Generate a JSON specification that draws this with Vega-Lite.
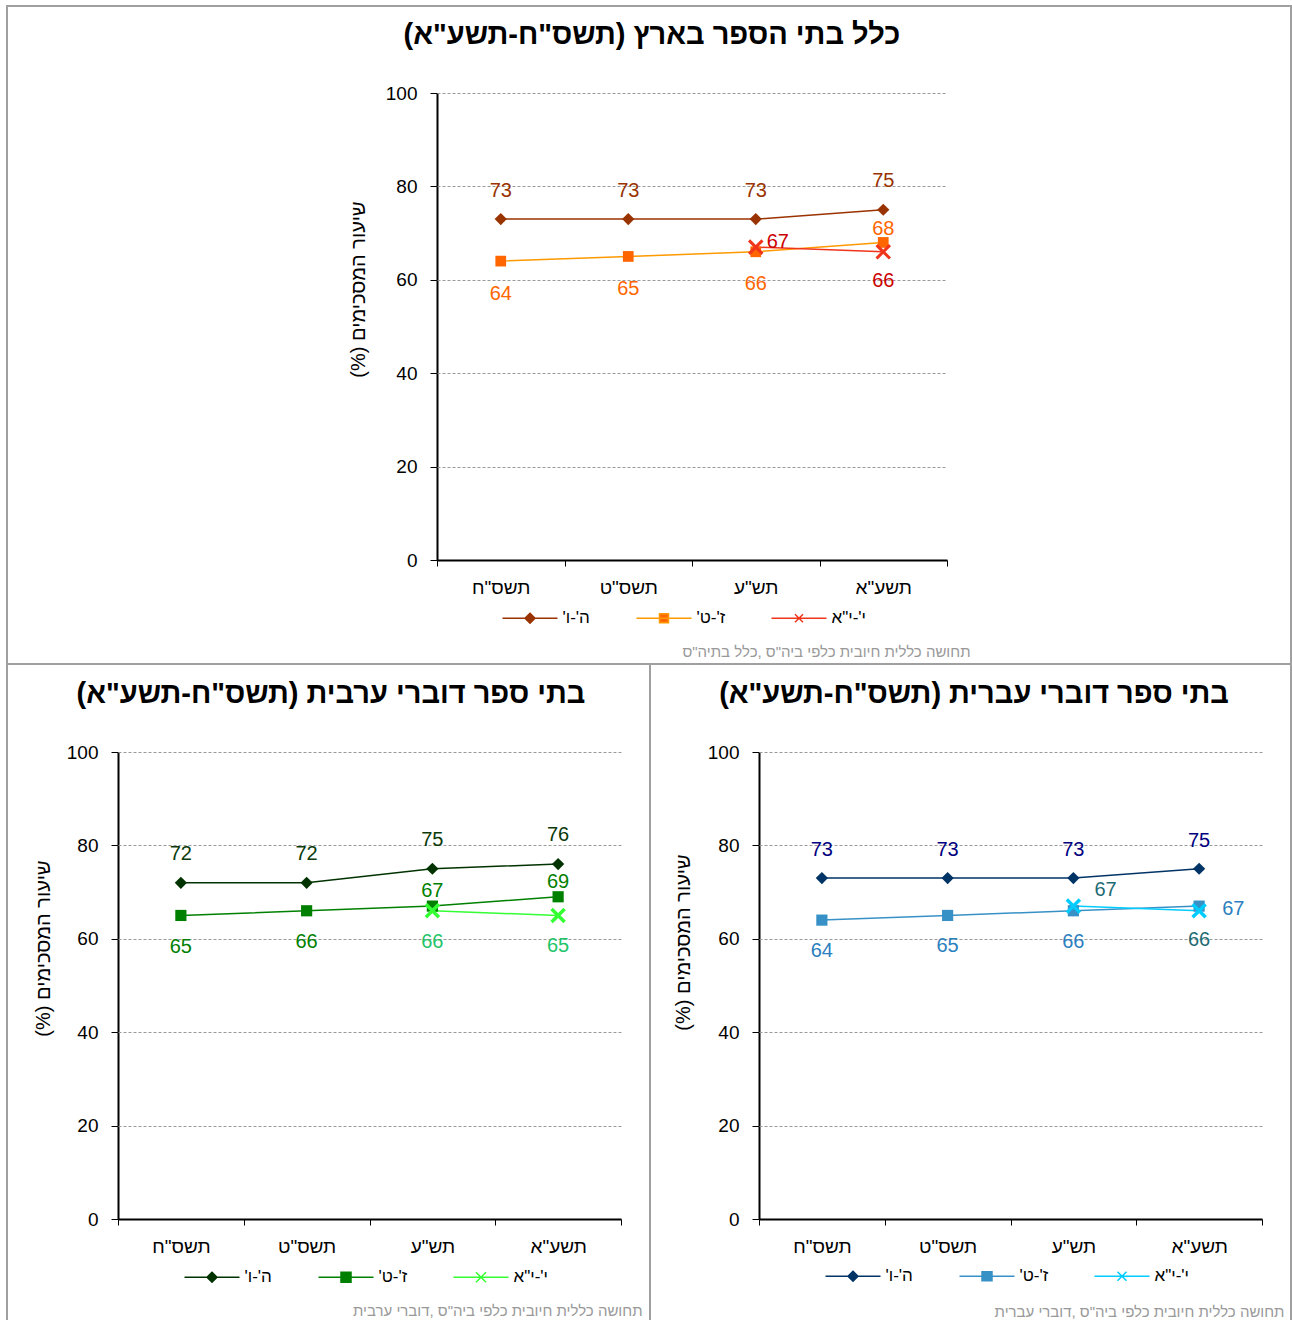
{
"$schema": "https://vega.github.io/schema/vega-lite/v6.json",
"padding": {"left": 6, "top": 5, "right": 0, "bottom": 0},
"background": "white",
"config": {"font": "Liberation Sans", "view": {"stroke": null}},
"datasets": {"d": [
{"panel":"all","series":"ה'-ו'","year":"תשס\"ח","value":73},
{"panel":"all","series":"ה'-ו'","year":"תשס\"ט","value":73},
{"panel":"all","series":"ה'-ו'","year":"תש\"ע","value":73},
{"panel":"all","series":"ה'-ו'","year":"תשע\"א","value":75},
{"panel":"all","series":"ז'-ט'","year":"תשס\"ח","value":64},
{"panel":"all","series":"ז'-ט'","year":"תשס\"ט","value":65},
{"panel":"all","series":"ז'-ט'","year":"תש\"ע","value":66},
{"panel":"all","series":"ז'-ט'","year":"תשע\"א","value":68},
{"panel":"all","series":"י'-י\"א","year":"תש\"ע","value":67},
{"panel":"all","series":"י'-י\"א","year":"תשע\"א","value":66},
{"panel":"arab","series":"ה'-ו'","year":"תשס\"ח","value":72},
{"panel":"arab","series":"ה'-ו'","year":"תשס\"ט","value":72},
{"panel":"arab","series":"ה'-ו'","year":"תש\"ע","value":75},
{"panel":"arab","series":"ה'-ו'","year":"תשע\"א","value":76},
{"panel":"arab","series":"ז'-ט'","year":"תשס\"ח","value":65},
{"panel":"arab","series":"ז'-ט'","year":"תשס\"ט","value":66},
{"panel":"arab","series":"ז'-ט'","year":"תש\"ע","value":67},
{"panel":"arab","series":"ז'-ט'","year":"תשע\"א","value":69},
{"panel":"arab","series":"י'-י\"א","year":"תש\"ע","value":66},
{"panel":"arab","series":"י'-י\"א","year":"תשע\"א","value":65},
{"panel":"heb","series":"ה'-ו'","year":"תשס\"ח","value":73},
{"panel":"heb","series":"ה'-ו'","year":"תשס\"ט","value":73},
{"panel":"heb","series":"ה'-ו'","year":"תש\"ע","value":73},
{"panel":"heb","series":"ה'-ו'","year":"תשע\"א","value":75},
{"panel":"heb","series":"ז'-ט'","year":"תשס\"ח","value":64},
{"panel":"heb","series":"ז'-ט'","year":"תשס\"ט","value":65},
{"panel":"heb","series":"ז'-ט'","year":"תש\"ע","value":66},
{"panel":"heb","series":"ז'-ט'","year":"תשע\"א","value":67},
{"panel":"heb","series":"י'-י\"א","year":"תש\"ע","value":67},
{"panel":"heb","series":"י'-י\"א","year":"תשע\"א","value":66}
]},
"spacing": 0,
"bounds": "flush",
"resolve": {"scale": {"x":"independent","y":"independent","color":"independent","fill":"independent","stroke":"independent","shape":"independent"}},
"vconcat": [
{
"width": 1284, "height": 658,
"view": {"stroke": "#A0A0A0", "strokeWidth": 2},
"title": {"text": "‏כלל בתי הספר בארץ (תשס\"ח-תשע\"א)‏", "anchor": "middle", "frame": "group", "offset": -44, "dx": 3, "fontSize": 29, "fontWeight": "bold", "color": "black"},
"data": {"name": "d"},
"transform": [{"filter": {"field": "panel", "equal": "all"}}],
"encoding": {
 "x": {"field": "year", "type": "ordinal", "sort": ["תשס\"ח","תשס\"ט","תש\"ע","תשע\"א"], "scale": {"type": "band", "range": [430, 940], "paddingInner": 0, "paddingOuter": 0}, "bandPosition": 0.5,
   "axis": {"orient": "bottom", "offset": -104, "domainColor": "black", "domainWidth": 2, "tickBand": "extent", "tickColor": "black", "tickSize": 6, "tickWidth": 1, "labelFontSize": 19, "labelColor": "black", "labelPadding": 12, "labelAngle": 0, "grid": false,
     "title": "‏תחושה  כללית חיובית  כלפי ביה\"ס ,כלל בתיה\"ס‏", "titleFontSize": 15, "titleFontWeight": "normal", "titleColor": "#999999", "titleX": 963, "titleY": 91, "titleAlign": "right", "titleBaseline": "middle"}},
 "y": {"field": "value", "type": "quantitative", "scale": {"domain": [0, 100], "range": [554, 87], "nice": false}, "axis": null}
},
"resolve": {"axis": {"y": "independent"}},
"layer": [
 {"mark": {"type": "line", "strokeWidth": 1.5},
  "encoding": {
   "y": {"field": "value", "type": "quantitative", "scale": {"domain": [0, 100], "range": [554, 87], "nice": false},
     "axis": {"orient": "left", "offset": -430, "values": [0,20,40,60,80,100], "domainColor": "black", "domainWidth": 2, "tickColor": "black", "tickSize": 7, "tickWidth": 1, "labelFontSize": 19, "labelColor": "black", "labelPadding": 13, "grid": false,
       "title": "‏שיעור המסכימים (%)‏", "titleFontSize": 20, "titleFontWeight": "normal", "titleColor": "black", "titleX": -79, "titleY": 283, "titleAlign": "center", "titleBaseline": "middle", "titleAngle": 270}},
   "color": {"field": "series", "type": "nominal", "scale": {"range": ["#993300","#FF9900","#F0351B"]}, "legend": null}}},
 {"transform": [{"filter": {"field": "series", "equal": "ה'-ו'"}}],
  "mark": {"type": "point", "shape": "diamond", "filled": true, "size": 150, "opacity": 1, "color": "#993300"},
  "encoding": {"y": {"field": "value", "type": "quantitative", "scale": {"domain": [0, 100], "range": [554, 87], "nice": false},
     "axis": {"orient": "left", "offset": -430, "values": [20,40,60,80,100], "domain": false, "labels": false, "ticks": true, "tickSize": -510, "tickColor": "#9a9a9a", "tickDash": [3,2], "tickWidth": 1, "grid": false, "title": null}}}},
 {"transform": [{"filter": {"field": "series", "equal": "ז'-ט'"}}],
  "mark": {"type": "point", "shape": "square", "filled": true, "size": 115, "opacity": 1, "color": "#FF6600"}},
 {"transform": [{"filter": {"field": "series", "equal": "י'-י\"א"}}],
  "mark": {"type": "point", "shape": "M-1,-1L1,1M-1,1L1,-1", "filled": false, "size": 180, "opacity": 1, "strokeWidth": 3, "color": "#F0351B"}},
 {"mark": {"type": "point", "filled": true, "opacity": 0},
  "encoding": {
   "fill": {"field": "series", "type": "nominal", "scale": {"domain": ["ה'-ו'","ז'-ט'","י'-י\"א"], "range": ["#993300","#FF6600","#F0351B"]},
     "legend": {"title": null, "orient": "none", "legendX": 495.5, "legendY": 603.5, "direction": "horizontal", "symbolSize": 100, "symbolStrokeWidth": 1.5, "symbolOffset": 19, "labelOffset": 24, "labelFontSize": 17, "labelColor": "black", "columnPadding": 43, "symbolOpacity": 1, "padding": 0, "labelExpr": "'‏' + datum.label + '‏'"}},
   "stroke": {"field": "series", "type": "nominal", "scale": {"domain": ["ה'-ו'","ז'-ט'","י'-י\"א"], "range": ["#993300","#FF9900","#F0351B"]},
     "legend": {"title": null, "orient": "none", "legendX": 495.5, "legendY": 603.5, "direction": "horizontal", "symbolSize": 100, "symbolStrokeWidth": 1.5, "symbolOffset": 19, "labelOffset": 24, "labelFontSize": 17, "labelColor": "black", "columnPadding": 43, "symbolOpacity": 1, "padding": 0, "labelExpr": "'‏' + datum.label + '‏'"}},
   "shape": {"field": "series", "type": "nominal", "scale": {"domain": ["ה'-ו'","ז'-ט'","י'-י\"א"], "range": ["M-5.5,0H5.5M0,-1L1,0L0,1L-1,0Z","M-5.5,0H5.5M-0.9,-0.9H0.9V0.9H-0.9Z","M-5.5,0H5.5M-0.8,-0.8L0.8,0.8M-0.8,0.8L0.8,-0.8"]},
     "legend": {"title": null, "orient": "none", "legendX": 495.5, "legendY": 603.5, "direction": "horizontal", "symbolSize": 100, "symbolStrokeWidth": 1.5, "symbolOffset": 19, "labelOffset": 24, "labelFontSize": 17, "labelColor": "black", "columnPadding": 43, "symbolOpacity": 1, "padding": 0, "labelExpr": "'‏' + datum.label + '‏'"}}}},
 {"transform": [{"filter": {"field": "series", "equal": "ה'-ו'"}}],
  "mark": {"type": "text", "dy": -28.5, "fontSize": 20, "baseline": "middle", "color": "#993300"},
  "encoding": {"text": {"field": "value", "type": "quantitative"}}},
 {"transform": [{"filter": {"and": [{"field": "series", "equal": "ז'-ט'"}, {"field": "year", "oneOf": ["תשס\"ח","תשס\"ט","תש\"ע"]}]}}],
  "mark": {"type": "text", "dy": 32.5, "fontSize": 20, "baseline": "middle", "color": "#FF6600"},
  "encoding": {"text": {"field": "value", "type": "quantitative"}}},
 {"transform": [{"filter": {"and": [{"field": "series", "equal": "ז'-ט'"}, {"field": "year", "equal": "תשע\"א"}]}}],
  "mark": {"type": "text", "dy": -13, "fontSize": 20, "baseline": "middle", "color": "#FF6600"},
  "encoding": {"text": {"field": "value", "type": "quantitative"}}},
 {"transform": [{"filter": {"and": [{"field": "series", "equal": "י'-י\"א"}, {"field": "year", "equal": "תשע\"א"}]}}],
  "mark": {"type": "text", "dy": 29.5, "fontSize": 20, "baseline": "middle", "color": "#CC0000"},
  "encoding": {"text": {"field": "value", "type": "quantitative"}}},
 {"transform": [{"filter": {"and": [{"field": "series", "equal": "י'-י\"א"}, {"field": "year", "equal": "תש\"ע"}]}}],
  "mark": {"type": "text", "dx": 11, "dy": -5.5, "align": "left", "fontSize": 20, "baseline": "middle", "color": "#CC0000"},
  "encoding": {"text": {"field": "value", "type": "quantitative"}}}
]
},
{
"spacing": 0,
"bounds": "flush",
"resolve": {"scale": {"x":"independent","y":"independent","color":"independent","fill":"independent","stroke":"independent","shape":"independent"}},
"hconcat": [
{
"width": 643, "height": 657,
"view": {"stroke": "#A0A0A0", "strokeWidth": 2},
"title": {"text": "‏בתי ספר דוברי ערבית (תשס\"ח-תשע\"א)‏", "anchor": "middle", "frame": "group", "offset": -45, "dx": 2.5, "fontSize": 29, "fontWeight": "bold", "color": "black"},
"data": {"name": "d"},
"transform": [{"filter": {"field": "panel", "equal": "arab"}}],
"encoding": {
 "x": {"field": "year", "type": "ordinal", "sort": ["תשס\"ח","תשס\"ט","תש\"ע","תשע\"א"], "scale": {"type": "band", "range": [111, 614], "paddingInner": 0, "paddingOuter": 0}, "bandPosition": 0.5,
   "axis": {"orient": "bottom", "offset": -102, "domainColor": "black", "domainWidth": 2, "tickBand": "extent", "tickColor": "black", "tickSize": 6, "tickWidth": 1, "labelFontSize": 19, "labelColor": "black", "labelPadding": 12, "labelAngle": 0, "grid": false,
     "title": "‏תחושה  כללית חיובית  כלפי ביה\"ס ,דוברי  ערבית‏", "titleFontSize": 15, "titleFontWeight": "normal", "titleColor": "#999999", "titleX": 635, "titleY": 91, "titleAlign": "right", "titleBaseline": "middle"}},
 "y": {"field": "value", "type": "quantitative", "scale": {"domain": [0, 100], "range": [555, 88], "nice": false}, "axis": null}
},
"resolve": {"axis": {"y": "independent"}},
"layer": [
 {"mark": {"type": "line", "strokeWidth": 1.5},
  "encoding": {
   "y": {"field": "value", "type": "quantitative", "scale": {"domain": [0, 100], "range": [555, 88], "nice": false},
     "axis": {"orient": "left", "offset": -111, "values": [0,20,40,60,80,100], "domainColor": "black", "domainWidth": 2, "tickColor": "black", "tickSize": 7, "tickWidth": 1, "labelFontSize": 19, "labelColor": "black", "labelPadding": 13, "grid": false,
       "title": "‏שיעור המסכימים (%)‏", "titleFontSize": 20, "titleFontWeight": "normal", "titleColor": "black", "titleX": -75, "titleY": 284, "titleAlign": "center", "titleBaseline": "middle", "titleAngle": 270}},
   "color": {"field": "series", "type": "nominal", "scale": {"range": ["#003300","#008000","#33FF33"]}, "legend": null}}},
 {"transform": [{"filter": {"field": "series", "equal": "ה'-ו'"}}],
  "mark": {"type": "point", "shape": "diamond", "filled": true, "size": 150, "opacity": 1, "color": "#003300"},
  "encoding": {"y": {"field": "value", "type": "quantitative", "scale": {"domain": [0, 100], "range": [555, 88], "nice": false},
     "axis": {"orient": "left", "offset": -111, "values": [20,40,60,80,100], "domain": false, "labels": false, "ticks": true, "tickSize": -503, "tickColor": "#9a9a9a", "tickDash": [3,2], "tickWidth": 1, "grid": false, "title": null}}}},
 {"transform": [{"filter": {"field": "series", "equal": "ז'-ט'"}}],
  "mark": {"type": "point", "shape": "square", "filled": true, "size": 125, "opacity": 1, "color": "#008000"}},
 {"transform": [{"filter": {"field": "series", "equal": "י'-י\"א"}}],
  "mark": {"type": "point", "shape": "M-1,-1L1,1M-1,1L1,-1", "filled": false, "size": 170, "opacity": 1, "strokeWidth": 3.5, "color": "#33FF33"}},
 {"mark": {"type": "point", "filled": true, "opacity": 0},
  "encoding": {
   "fill": {"field": "series", "type": "nominal", "scale": {"domain": ["ה'-ו'","ז'-ט'","י'-י\"א"], "range": ["#003300","#008000","#33FF33"]},
     "legend": {"title": null, "orient": "none", "legendX": 177.5, "legendY": 604.5, "direction": "horizontal", "symbolSize": 100, "symbolStrokeWidth": 1.5, "symbolOffset": 19, "labelOffset": 24, "labelFontSize": 17, "labelColor": "black", "columnPadding": 43, "symbolOpacity": 1, "padding": 0, "labelExpr": "'‏' + datum.label + '‏'"}},
   "stroke": {"field": "series", "type": "nominal", "scale": {"domain": ["ה'-ו'","ז'-ט'","י'-י\"א"], "range": ["#003300","#008000","#33FF33"]},
     "legend": {"title": null, "orient": "none", "legendX": 177.5, "legendY": 604.5, "direction": "horizontal", "symbolSize": 100, "symbolStrokeWidth": 1.5, "symbolOffset": 19, "labelOffset": 24, "labelFontSize": 17, "labelColor": "black", "columnPadding": 43, "symbolOpacity": 1, "padding": 0, "labelExpr": "'‏' + datum.label + '‏'"}},
   "shape": {"field": "series", "type": "nominal", "scale": {"domain": ["ה'-ו'","ז'-ט'","י'-י\"א"], "range": ["M-5.5,0H5.5M0,-1L1,0L0,1L-1,0Z","M-5.5,0H5.5M-1,-1H1V1H-1Z","M-5.5,0H5.5M-1,-1L1,1M-1,1L1,-1"]},
     "legend": {"title": null, "orient": "none", "legendX": 177.5, "legendY": 604.5, "direction": "horizontal", "symbolSize": 100, "symbolStrokeWidth": 1.5, "symbolOffset": 19, "labelOffset": 24, "labelFontSize": 17, "labelColor": "black", "columnPadding": 43, "symbolOpacity": 1, "padding": 0, "labelExpr": "'‏' + datum.label + '‏'"}}}},
 {"transform": [{"filter": {"field": "series", "equal": "ה'-ו'"}}],
  "mark": {"type": "text", "dy": -29, "fontSize": 20, "baseline": "middle", "color": "#0A3A0A"},
  "encoding": {"text": {"field": "value", "type": "quantitative"}}},
 {"transform": [{"filter": {"and": [{"field": "series", "equal": "ז'-ט'"}, {"field": "year", "oneOf": ["תשס\"ח","תשס\"ט"]}]}}],
  "mark": {"type": "text", "dy": 31.5, "fontSize": 20, "baseline": "middle", "color": "#008000"},
  "encoding": {"text": {"field": "value", "type": "quantitative"}}},
 {"transform": [{"filter": {"and": [{"field": "series", "equal": "ז'-ט'"}, {"field": "year", "oneOf": ["תש\"ע","תשע\"א"]}]}}],
  "mark": {"type": "text", "dy": -15, "fontSize": 20, "baseline": "middle", "color": "#008000"},
  "encoding": {"text": {"field": "value", "type": "quantitative"}}},
 {"transform": [{"filter": {"field": "series", "equal": "י'-י\"א"}}],
  "mark": {"type": "text", "dy": 31, "fontSize": 20, "baseline": "middle", "color": "#1EC46A"},
  "encoding": {"text": {"field": "value", "type": "quantitative"}}}
]
},
{
"width": 641, "height": 657,
"view": {"stroke": "#A0A0A0", "strokeWidth": 2},
"title": {"text": "‏בתי ספר דוברי עברית (תשס\"ח-תשע\"א)‏", "anchor": "middle", "frame": "group", "offset": -45, "dx": 3.5, "fontSize": 29, "fontWeight": "bold", "color": "black"},
"data": {"name": "d"},
"transform": [{"filter": {"field": "panel", "equal": "heb"}}],
"encoding": {
 "x": {"field": "year", "type": "ordinal", "sort": ["תשס\"ח","תשס\"ט","תש\"ע","תשע\"א"], "scale": {"type": "band", "range": [109, 612], "paddingInner": 0, "paddingOuter": 0}, "bandPosition": 0.5,
   "axis": {"orient": "bottom", "offset": -102, "domainColor": "black", "domainWidth": 2, "tickBand": "extent", "tickColor": "black", "tickSize": 6, "tickWidth": 1, "labelFontSize": 19, "labelColor": "black", "labelPadding": 12, "labelAngle": 0, "grid": false,
     "title": "‏תחושה  כללית חיובית  כלפי ביה\"ס ,דוברי  עברית‏", "titleFontSize": 15, "titleFontWeight": "normal", "titleColor": "#999999", "titleX": 634, "titleY": 92, "titleAlign": "right", "titleBaseline": "middle"}},
 "y": {"field": "value", "type": "quantitative", "scale": {"domain": [0, 100], "range": [555, 88], "nice": false}, "axis": null}
},
"resolve": {"axis": {"y": "independent"}},
"layer": [
 {"mark": {"type": "line", "strokeWidth": 1.5},
  "encoding": {
   "y": {"field": "value", "type": "quantitative", "scale": {"domain": [0, 100], "range": [555, 88], "nice": false},
     "axis": {"orient": "left", "offset": -109, "values": [0,20,40,60,80,100], "domainColor": "black", "domainWidth": 2, "tickColor": "black", "tickSize": 7, "tickWidth": 1, "labelFontSize": 19, "labelColor": "black", "labelPadding": 13, "grid": false,
       "title": "‏שיעור המסכימים (%)‏", "titleFontSize": 20, "titleFontWeight": "normal", "titleColor": "black", "titleX": -76, "titleY": 278, "titleAlign": "center", "titleBaseline": "middle", "titleAngle": 270}},
   "color": {"field": "series", "type": "nominal", "scale": {"range": ["#003366","#3891C6","#00CCFF"]}, "legend": null}}},
 {"transform": [{"filter": {"field": "series", "equal": "ה'-ו'"}}],
  "mark": {"type": "point", "shape": "diamond", "filled": true, "size": 150, "opacity": 1, "color": "#003366"},
  "encoding": {"y": {"field": "value", "type": "quantitative", "scale": {"domain": [0, 100], "range": [555, 88], "nice": false},
     "axis": {"orient": "left", "offset": -109, "values": [20,40,60,80,100], "domain": false, "labels": false, "ticks": true, "tickSize": -503, "tickColor": "#9a9a9a", "tickDash": [3,2], "tickWidth": 1, "grid": false, "title": null}}}},
 {"transform": [{"filter": {"field": "series", "equal": "ז'-ט'"}}],
  "mark": {"type": "point", "shape": "square", "filled": true, "size": 125, "opacity": 1, "color": "#3891C6"}},
 {"transform": [{"filter": {"field": "series", "equal": "י'-י\"א"}}],
  "mark": {"type": "point", "shape": "M-1,-1L1,1M-1,1L1,-1", "filled": false, "size": 170, "opacity": 1, "strokeWidth": 3.5, "color": "#00CCFF"}},
 {"mark": {"type": "point", "filled": true, "opacity": 0},
  "encoding": {
   "fill": {"field": "series", "type": "nominal", "scale": {"domain": ["ה'-ו'","ז'-ט'","י'-י\"א"], "range": ["#003366","#3891C6","#00CCFF"]},
     "legend": {"title": null, "orient": "none", "legendX": 175.5, "legendY": 603.5, "direction": "horizontal", "symbolSize": 100, "symbolStrokeWidth": 1.5, "symbolOffset": 19, "labelOffset": 24, "labelFontSize": 17, "labelColor": "black", "columnPadding": 43, "symbolOpacity": 1, "padding": 0, "labelExpr": "'‏' + datum.label + '‏'"}},
   "stroke": {"field": "series", "type": "nominal", "scale": {"domain": ["ה'-ו'","ז'-ט'","י'-י\"א"], "range": ["#003366","#3891C6","#00CCFF"]},
     "legend": {"title": null, "orient": "none", "legendX": 175.5, "legendY": 603.5, "direction": "horizontal", "symbolSize": 100, "symbolStrokeWidth": 1.5, "symbolOffset": 19, "labelOffset": 24, "labelFontSize": 17, "labelColor": "black", "columnPadding": 43, "symbolOpacity": 1, "padding": 0, "labelExpr": "'‏' + datum.label + '‏'"}},
   "shape": {"field": "series", "type": "nominal", "scale": {"domain": ["ה'-ו'","ז'-ט'","י'-י\"א"], "range": ["M-5.5,0H5.5M0,-1L1,0L0,1L-1,0Z","M-5.5,0H5.5M-1,-0.9H1V0.9H-1Z","M-5.5,0H5.5M-0.9,-0.9L0.9,0.9M-0.9,0.9L0.9,-0.9"]},
     "legend": {"title": null, "orient": "none", "legendX": 175.5, "legendY": 603.5, "direction": "horizontal", "symbolSize": 100, "symbolStrokeWidth": 1.5, "symbolOffset": 19, "labelOffset": 24, "labelFontSize": 17, "labelColor": "black", "columnPadding": 43, "symbolOpacity": 1, "padding": 0, "labelExpr": "'‏' + datum.label + '‏'"}}}},
 {"transform": [{"filter": {"field": "series", "equal": "ה'-ו'"}}],
  "mark": {"type": "text", "dy": -28, "fontSize": 20, "baseline": "middle", "color": "#000080"},
  "encoding": {"text": {"field": "value", "type": "quantitative"}}},
 {"transform": [{"filter": {"and": [{"field": "series", "equal": "ז'-ט'"}, {"field": "year", "oneOf": ["תשס\"ח","תשס\"ט","תש\"ע"]}]}}],
  "mark": {"type": "text", "dy": 31, "fontSize": 20, "baseline": "middle", "color": "#2A7FC0"},
  "encoding": {"text": {"field": "value", "type": "quantitative"}}},
 {"transform": [{"filter": {"and": [{"field": "series", "equal": "ז'-ט'"}, {"field": "year", "equal": "תשע\"א"}]}}],
  "mark": {"type": "text", "dx": 23, "dy": 2.5, "align": "left", "fontSize": 20, "baseline": "middle", "color": "#2A7FC0"},
  "encoding": {"text": {"field": "value", "type": "quantitative"}}},
 {"transform": [{"filter": {"and": [{"field": "series", "equal": "י'-י\"א"}, {"field": "year", "equal": "תשע\"א"}]}}],
  "mark": {"type": "text", "dy": 29, "fontSize": 20, "baseline": "middle", "color": "#1F6B75"},
  "encoding": {"text": {"field": "value", "type": "quantitative"}}},
 {"transform": [{"filter": {"and": [{"field": "series", "equal": "י'-י\"א"}, {"field": "year", "equal": "תש\"ע"}]}}],
  "mark": {"type": "text", "dx": 21, "dy": -16, "align": "left", "fontSize": 20, "baseline": "middle", "color": "#1F6B75"},
  "encoding": {"text": {"field": "value", "type": "quantitative"}}}
]
}
]
}
]
}
